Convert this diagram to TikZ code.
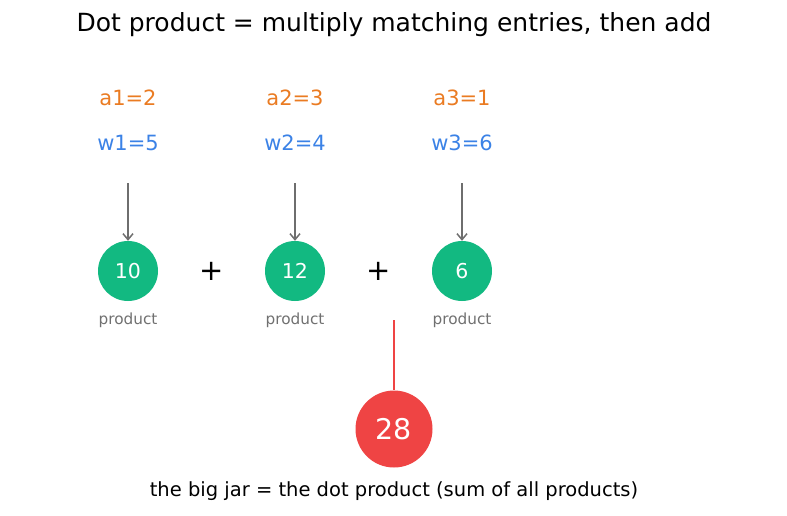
\documentclass[tikz,border=0pt]{standalone}
\usepackage{fontspec}
\setmainfont{DejaVu Sans}
\usepackage{tikz}
\usetikzlibrary{arrows.meta, positioning, calc}

\definecolor{aorange}{HTML}{EA7B22}
\definecolor{wblue}{HTML}{3B82E6}
\definecolor{prodgreen}{HTML}{12B981}
\definecolor{jarred}{HTML}{EF4444}
\definecolor{arrgray}{HTML}{6E6E6E}
\definecolor{labgray}{HTML}{707070}

\begin{document}
\begin{tikzpicture}[
  x=1pt, y=-1pt,
  >={Straight Barb[length=6pt, width=10pt]},
  aval/.style  = {text=aorange, font=\fontsize{21}{21}\selectfont},
  wval/.style  = {text=wblue, font=\fontsize{21}{21}\selectfont},
  prod/.style  = {circle, fill=prodgreen, text=white, minimum size=60pt, inner sep=0pt,
                  font=\fontsize{20.5}{20.5}\selectfont},
  plab/.style  = {text=labgray, font=\fontsize{15.3}{15.3}\selectfont},
  plus/.style  = {font=\fontsize{29}{29}\selectfont},
  jar/.style   = {circle, fill=jarred, text=white, minimum size=77pt, inner sep=0pt,
                  font=\fontsize{28.5}{28.5}\selectfont},
]
  \useasboundingbox (0,0) rectangle (787,515);

%--- title ---
  \node[font=\fontsize{25}{25}\selectfont] (title) at (394,25)
    {Dot product = multiply matching entries, then add};

%--- entries and products ---
  \node[aval] (a1) at (128,98)  {a1=2};
  \node[wval] (w1) at (128,143) {w1=5};
  \node[aval] (a2) at (295,98)  {a2=3};
  \node[wval] (w2) at (295,143) {w2=4};
  \node[aval] (a3) at (462,98)  {a3=1};
  \node[wval] (w3) at (462,143) {w3=6};

  \node[prod] (p1) at (128,271) {10};
  \node[prod] (p2) at (295,271) {12};
  \node[prod] (p3) at (462,271) {6};

  \node[plab, below=8pt of p1] (l1) {product};
  \node[plab, below=8pt of p2] (l2) {product};
  \node[plab, below=8pt of p3] (l3) {product};

  \node[plus] (s1) at ($(p1)!0.5!(p2)$) {+};
  \node[plus] (s2) at ($(p2)!0.5!(p3)$) {+};

  \coordinate (t1) at (128,183);
  \coordinate (t2) at (295,183);
  \coordinate (t3) at (462,183);
  \draw[->, arrgray, line width=1.5pt] (t1) -- (p1.north);
  \draw[->, arrgray, line width=1.5pt] (t2) -- (p2.north);
  \draw[->, arrgray, line width=1.5pt] (t3) -- (p3.north);

%--- the big jar ---
  \node[jar] (jar) at (394,429) {28};
  \coordinate (jtop) at (394,320);
  \draw[jarred, line width=1.6pt] (jtop) -- (jar.north);

  \node[font=\fontsize{19.5}{19.5}\selectfont] (cap) at (394,491)
    {the big jar = the dot product (sum of all products)};
\end{tikzpicture}
\end{document}
